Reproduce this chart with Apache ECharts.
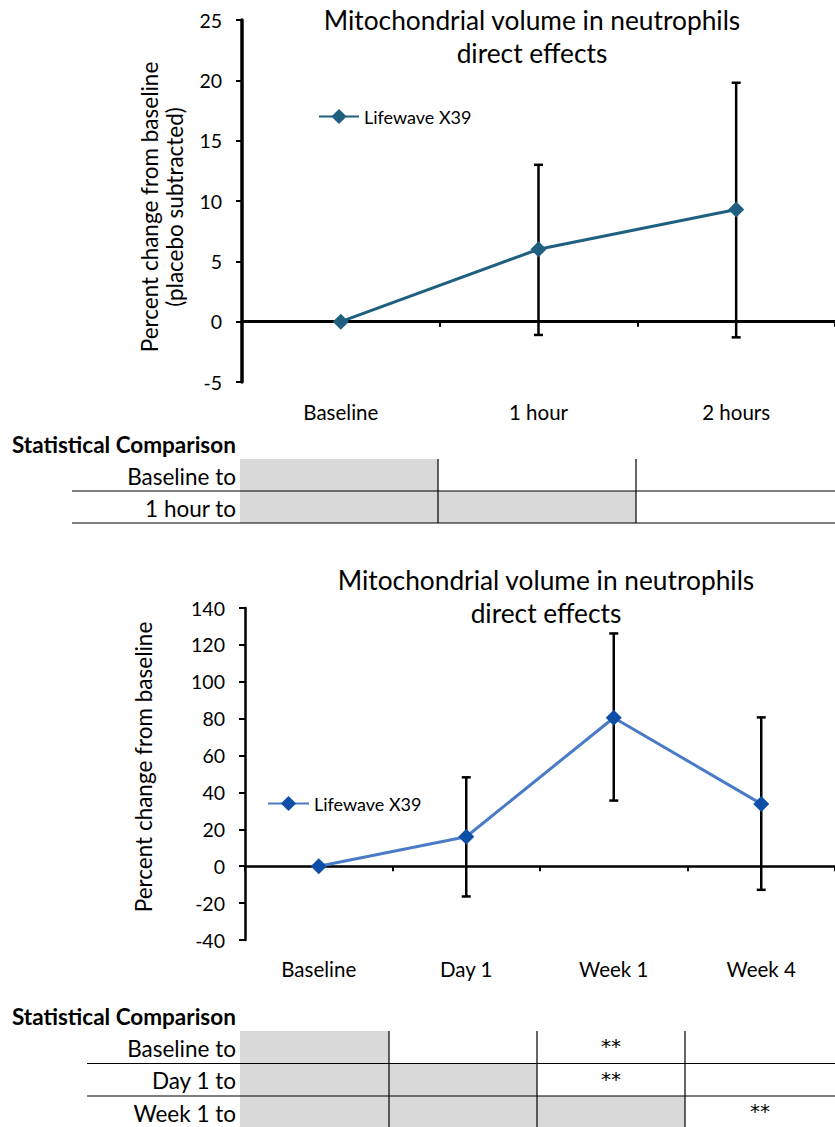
<!DOCTYPE html>
<html>
<head>
<meta charset="utf-8">
<script src="https://cdn.jsdelivr.net/npm/echarts@6/dist/echarts.min.js"></script>
<style>
html,body{margin:0;padding:0;background:#fff;}
#main{width:835px;height:1127px;}
</style>
</head>
<body>
<div id="main"></div>
<script>
// ---------- data ----------
const title1 = 'Mitochondrial volume in neutrophils\ndirect effects';
const yName1 = 'Percent change from baseline\n(placebo subtracted)';
const cats1 = ['Baseline', '1 hour', '2 hours'];
const vals1 = [0, 6.0, 9.3];
const errLow1 = [null, -1.1, -1.3];
const errHigh1 = [null, 13.0, 19.8];
const yMin1 = -5, yMax1 = 25, yStep1 = 5;

const title2 = 'Mitochondrial volume in neutrophils\ndirect effects';
const yName2 = 'Percent change from baseline';
const cats2 = ['Baseline', 'Day 1', 'Week 1', 'Week 4'];
const vals2 = [0, 16.0, 80.5, 33.8];
const errLow2 = [null, -16.4, 35.6, -12.8];
const errHigh2 = [null, 48.2, 126.2, 80.7];
const yMin2 = -40, yMax2 = 140, yStep2 = 20;

const seriesName = 'Lifewave X39';

const tableHeader = 'Statistical Comparison';
const table1Rows = ['Baseline to', '1 hour to'];
const table1Shade = [[1, 0, 0], [1, 1, 0]];
const table1Marks = [['', '', ''], ['', '', '']];
const table2Rows = ['Baseline to', 'Day 1 to', 'Week 1 to'];
const table2Shade = [[1, 0, 0, 0], [1, 1, 0, 0], [1, 1, 1, 0]];
const table2Marks = [['', '', '**', ''], ['', '', '**', ''], ['', '', '', '**']];

// ---------- helpers ----------
const FONT = 'Lato, "Open Sans", sans-serif';
function errSeries(xIdx, yIdx, low, high) {
  const data = [];
  low.forEach((l, i) => { if (l !== null) data.push([i, l, high[i]]); });
  return {
    type: 'custom', xAxisIndex: xIdx, yAxisIndex: yIdx, z: 1, silent: true,
    encode: { x: 0, y: [1, 2] },
    data: data,
    renderItem: function (params, api) {
      const lo = api.coord([api.value(0), api.value(1)]);
      const hi = api.coord([api.value(0), api.value(2)]);
      const w = 4.5;
      const st = { stroke: '#000', lineWidth: 2.5 };
      return { type: 'group', children: [
        { type: 'line', shape: { x1: lo[0], y1: lo[1], x2: hi[0], y2: hi[1] }, style: st },
        { type: 'line', shape: { x1: lo[0] - w, y1: lo[1], x2: lo[0] + w, y2: lo[1] }, style: st },
        { type: 'line', shape: { x1: hi[0] - w, y1: hi[1], x2: hi[0] + w, y2: hi[1] }, style: st }
      ]};
    }
  };
}
function labelAxis(gridIndex, cats, margin) {
  return { type: 'category', gridIndex: gridIndex, data: cats, position: 'bottom',
    axisLine: { show: false, onZero: false }, axisTick: { show: false },
    axisLabel: { margin: margin, fontSize: 20.5, color: '#000', fontFamily: FONT } };
}
function zeroAxis(gridIndex, cats, yIdx, lw) {
  return { type: 'category', gridIndex: gridIndex, data: cats, position: 'bottom',
    axisLine: { show: true, onZero: true, onZeroAxisIndex: yIdx, lineStyle: { color: '#000', width: lw } },
    axisTick: { show: true, length: 5, lineStyle: { color: '#000', width: 2 } },
    axisLabel: { show: false }, splitLine: { show: false } };
}
function valAxis(gridIndex, mn, mx, step, lw) {
  return { type: 'value', gridIndex: gridIndex, min: mn, max: mx, interval: step,
    axisLine: { show: true, onZero: false, lineStyle: { color: '#000', width: lw } },
    axisTick: { show: true, length: 6, lineStyle: { color: '#000', width: 2 } },
    axisLabel: { margin: 20, fontSize: 19.5, color: '#000', fontFamily: FONT },
    splitLine: { show: false } };
}
function tableGraphics(top, rowH, lineLeft, colX, rows, shade, marks, headerY, lastLine) {
  const els = [];
  els.push({ type: 'text', x: 12, y: headerY, style: { text: tableHeader, fontSize: 22.5, fontWeight: 'bold', fontFamily: FONT, fill: '#000', align: 'left', verticalAlign: 'middle' } });
  rows.forEach((r, i) => {
    const y0 = top + i * rowH;
    shade[i].forEach((s, j) => {
      if (s) els.push({ type: 'rect', shape: { x: colX[j], y: y0, width: colX[j + 1] - colX[j], height: rowH }, style: { fill: '#d9d9d9' } });
      if (marks[i][j]) els.push({ type: 'text', x: (colX[j] + colX[j + 1]) / 2, y: y0 + rowH / 2 - 1, style: { text: marks[i][j], fontSize: 20, fontFamily: '"DejaVu Sans", sans-serif', fill: '#000', align: 'center', verticalAlign: 'middle' } });
    });
    els.push({ type: 'text', x: 236, y: y0 + rowH / 2 + 1, style: { text: r, fontSize: 22.5, fontFamily: FONT, fill: '#000', align: 'right', verticalAlign: 'middle' } });
  });
  const bottom = top + rows.length * rowH;
  for (let j = 1; j < colX.length - 1; j++) {
    els.push({ type: 'line', shape: { x1: colX[j], y1: top, x2: colX[j], y2: bottom }, style: { stroke: '#000', lineWidth: 1.2 } });
  }
  for (let i = 1; i <= rows.length; i++) {
    if (i === rows.length && !lastLine) continue;
    const y = top + i * rowH;
    els.push({ type: 'line', shape: { x1: lineLeft, y1: y, x2: 835, y2: y }, style: { stroke: '#000', lineWidth: 1.2 } });
  }
  return els;
}

const chart = echarts.init(document.getElementById('main'), null, { renderer: 'svg', width: 835, height: 1127 });

const graphics = [
  { type: 'text', x: 532, y: 36, style: { text: title1, fontSize: 26.3, fontFamily: FONT, fill: '#000', align: 'center', verticalAlign: 'middle', lineHeight: 33 } },
  { type: 'text', x: 546, y: 596, style: { text: title2, fontSize: 26.3, fontFamily: FONT, fill: '#000', align: 'center', verticalAlign: 'middle', lineHeight: 33 } },
  { type: 'text', x: 162, y: 207, rotation: Math.PI / 2, style: { text: yName1, fontSize: 22.5, fontFamily: FONT, fill: '#000', align: 'center', verticalAlign: 'middle', lineHeight: 25 } },
  { type: 'text', x: 143, y: 767, rotation: Math.PI / 2, style: { text: yName2, fontSize: 22.5, fontFamily: FONT, fill: '#000', align: 'center', verticalAlign: 'middle' } }
].concat(
  tableGraphics(459, 32, 72, [240, 438, 636, 835], table1Rows, table1Shade, table1Marks, 444, true),
  tableGraphics(1031, 32.5, 87, [240, 389, 537, 685, 835], table2Rows, table2Shade, table2Marks, 1016, false)
);

chart.setOption({
  animation: false,
  backgroundColor: '#fff',
  textStyle: { fontFamily: FONT },
  grid: [
    { left: 242, right: 0, top: 20, height: 362, containLabel: false },
    { left: 245, right: 0, top: 608, height: 332, containLabel: false }
  ],
  legend: [
    { left: 318, top: 107.5, padding: 0, itemWidth: 40, itemHeight: 19, data: ['s1'], selectedMode: false,
      formatter: function () { return seriesName; },
      textStyle: { fontSize: 18, color: '#000', fontFamily: FONT } },
    { left: 267, top: 794.5, padding: 0, itemWidth: 41, itemHeight: 19, data: ['s2'], selectedMode: false,
      formatter: function () { return seriesName; },
      textStyle: { fontSize: 18, color: '#000', fontFamily: FONT } }
  ],
  xAxis: [
    labelAxis(0, cats1, 19), zeroAxis(0, cats1, 0, 3),
    labelAxis(1, cats2, 18), zeroAxis(1, cats2, 1, 2.5)
  ],
  yAxis: [ valAxis(0, yMin1, yMax1, yStep1, 3.5), valAxis(1, yMin2, yMax2, yStep2, 2.5) ],
  series: [
    { name: 's1', type: 'line', xAxisIndex: 0, yAxisIndex: 0, data: vals1, z: 3,
      symbol: 'diamond', symbolSize: 16, lineStyle: { color: '#1f5f80', width: 3 },
      itemStyle: { color: '#1f5f80' } },
    errSeries(0, 0, errLow1, errHigh1),
    { name: 's2', type: 'line', xAxisIndex: 2, yAxisIndex: 1, data: vals2, z: 3,
      symbol: 'diamond', symbolSize: 16, lineStyle: { color: '#4a7bc8', width: 3 },
      itemStyle: { color: '#0d4ea6' } },
    errSeries(2, 1, errLow2, errHigh2)
  ],
  graphic: graphics
});
</script>
</body>
</html>
